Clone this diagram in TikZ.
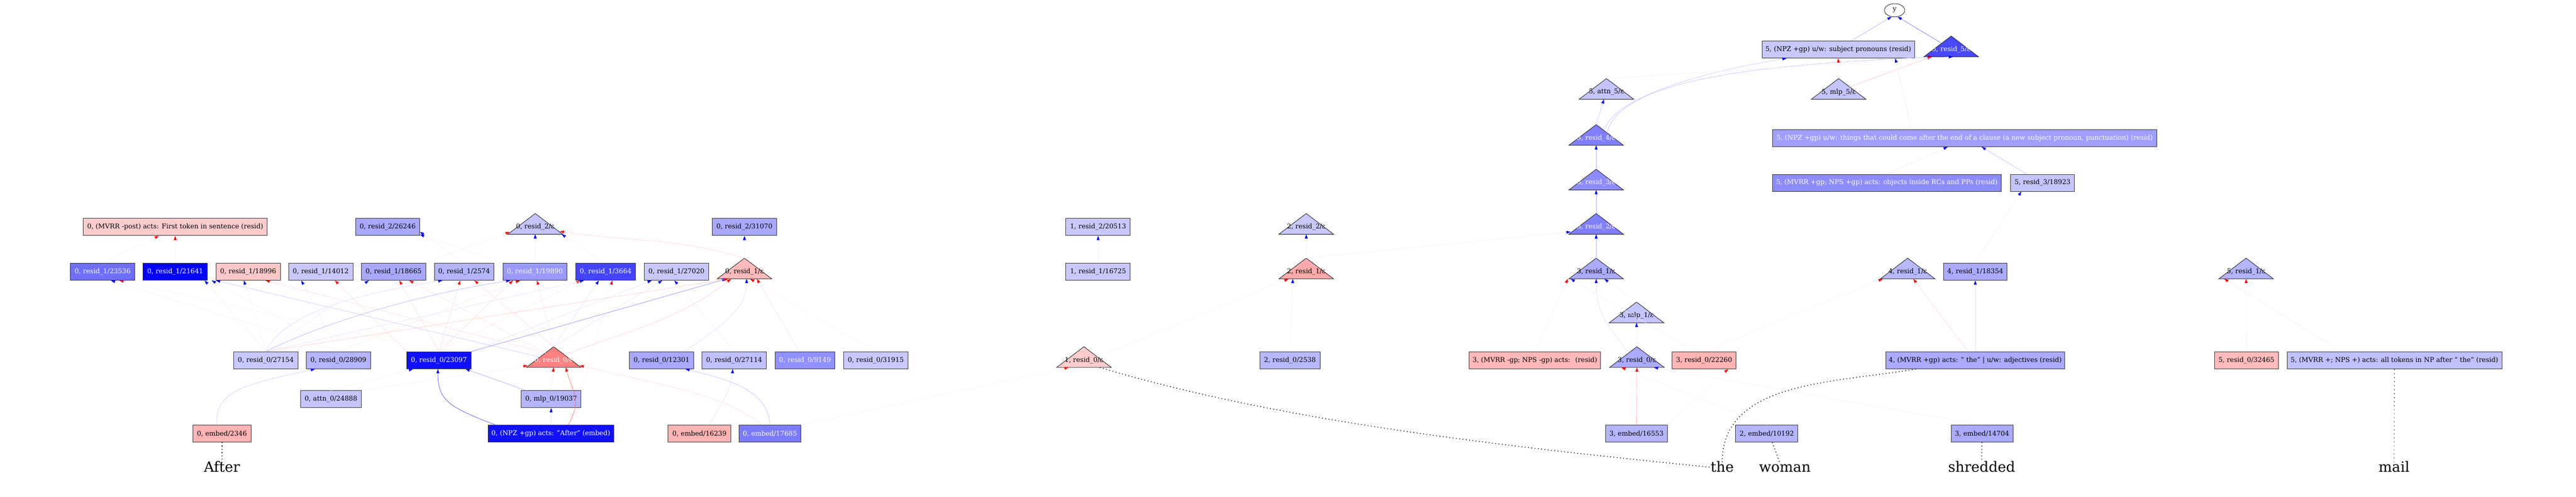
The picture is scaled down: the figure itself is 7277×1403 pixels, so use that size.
\documentclass[tikz,border=0pt]{standalone}
\usepackage{fontspec}
\setmainfont{DejaVu Serif}
\usetikzlibrary{arrows.meta,calc,shapes.geometric}
\newcommand\gpx[1]{#1*0.75pt}
\definecolor{bC8}{HTML}{C8C8FF}\definecolor{bC4}{HTML}{C4C4FF}\definecolor{bC0}{HTML}{C0C0FF}
\definecolor{bB8}{HTML}{B8B8FF}\definecolor{bB4}{HTML}{B4B4FF}\definecolor{bAA}{HTML}{AAAAFF}
\definecolor{bA8}{HTML}{A8A8FF}\definecolor{b9F}{HTML}{9F9FFF}\definecolor{b99}{HTML}{9999FF}
\definecolor{b90}{HTML}{9090FF}\definecolor{b8C}{HTML}{8C8CFF}\definecolor{b7F}{HTML}{7F7FFF}
\definecolor{b7B}{HTML}{7B7BFF}\definecolor{b70}{HTML}{6F6FFF}\definecolor{b48}{HTML}{4848FF}
\definecolor{b44}{HTML}{4444FF}\definecolor{b10}{HTML}{1010FF}\definecolor{b00}{HTML}{0000FF}
\definecolor{rCC}{HTML}{FFCCCC}\definecolor{rC8}{HTML}{FFC8C8}\definecolor{rBB}{HTML}{FFBBBB}
\definecolor{rB8}{HTML}{FFB8B8}\definecolor{rB4}{HTML}{FFB4B4}\definecolor{rAA}{HTML}{FFAAAA}
\definecolor{r80}{HTML}{FF8080}
\tikzset{
  lbl/.style={font=\fontsize{14}{16}\selectfont, inner sep=0pt},
  box/.style={draw=black!80, line width=1pt, minimum height=36pt, inner sep=0pt, font=\fontsize{14}{16}\selectfont},
  bw/.style={minimum width=#1*0.75pt},
  trin/.style={minimum width=115.5pt, minimum height=43.5pt, inner sep=0pt},
  tribord/.style={draw=black!85, line width=1pt},
  eB/.style={draw=blue!#1, line width=0.75pt, -{Triangle[length=9pt,width=6pt,color=blue]}},
  eR/.style={draw=red!#1, line width=0.75pt, -{Triangle[length=9pt,width=6pt,color=red]}},
  eK/.style={draw=black!#1, line width=0.75pt, -{Triangle[length=9pt,width=6pt,color=blue]}},
  word/.style={font=\fontsize{30}{34}\selectfont, inner sep=0pt, anchor=base, text height=21pt, text depth=0pt},
  wlink/.style={line width=1.6pt, dash pattern=on 1.6pt off 5.4pt, black},
  wdash/.style={line width=1pt, dash pattern=on 2.5pt off 6pt, black!80},
}
\newcommand\trinode[6]{%
  \node[trin] (#1) at (#2,#3-9) {};
  \draw[tribord,fill=#4] (#1.north) -- (#1.south east) -- (#1.south west) -- cycle;
  \node[lbl,text=#5] (#1l) at (#2,#3) {#6};
}
\begin{document}
\begin{tikzpicture}[x=0.75pt,y=-0.75pt]
\useasboundingbox[fill=white] (0,0) rectangle (7277,1403);

% ---------- top rows ----------
\node[draw=black, line width=0.8pt, ellipse, minimum width=43pt, minimum height=28pt, inner sep=0pt, lbl] (yy) at (5352,29) {y};
\node[box,bw=431,fill=bC8] (npzsubj) at (5193,140) {5, (NPZ +gp) u/w: subject pronouns (resid)};
\trinode{r5e}{5512}{140}{b48}{white}{5, resid\_5/ε}
\trinode{a5e}{4538}{260}{bC4}{black}{5, attn\_5/ε}
\trinode{m5e}{5194}{260}{bC4}{black}{5, mlp\_5/ε}
\trinode{r4e}{4509}{390}{b7F}{white}{3, resid\_4/ε}
\node[box,bw=1086,fill=b9F,text=white] (npzthings) at (5550,390) {5, (NPZ +gp) u/w: things that could come after the end of a clause (a new subject pronoun, punctuation) (resid)};
\trinode{r3e}{4509}{516}{b8C}{white}{3, resid\_3/ε}
\node[box,bw=647,fill=b8C,text=white] (mvrrobj) at (5330,516) {5, (MVRR +gp; NPS +gp) acts: objects inside RCs and PPs (resid)};
\node[box,bw=181,fill=bC4] (ra18923) at (5770,516) {5, resid\_3/18923};

% ---------- resid_2 row ----------
\node[box,bw=519,fill=rCC] (mvrrpost) at (495,641) {0, (MVRR -post) acts: First token in sentence (resid)};
\node[box,bw=181,fill=bA8] (rb26246) at (1095,641) {0, resid\_2/26246};
\trinode{r2e0}{1512}{641}{bC4}{black}{0, resid\_2/ε}
\node[box,bw=181,fill=bA8] (rb31070) at (2103,641) {0, resid\_2/31070};
\node[box,bw=182,fill=bC8] (rb20513) at (3102,641) {1, resid\_2/20513};
\trinode{r2e2}{3690}{641}{bC8}{black}{2, resid\_2/ε}
\trinode{r2e3}{4509}{641}{b7F}{white}{3, resid\_2/ε}

% ---------- resid_1 row ----------
\node[box,bw=182,fill=b70,text=white] (rc23536) at (290,767) {0, resid\_1/23536};
\node[box,bw=182,fill=b00,text=white] (rc21641) at (495,767) {0, resid\_1/21641};
\node[box,bw=182,fill=rC8] (rc18996) at (701,767) {0, resid\_1/18996};
\node[box,bw=182,fill=bC8] (rc14012) at (906,767) {0, resid\_1/14012};
\node[box,bw=182,fill=bA8] (rc18665) at (1112,767) {0, resid\_1/18665};
\node[box,bw=168,fill=bB4] (rc2574) at (1311,767) {0, resid\_1/2574};
\node[box,bw=181,fill=b99,text=white] (rc19890) at (1511,767) {0, resid\_1/19890};
\node[box,bw=169,fill=b44,text=white] (rc3664) at (1711,767) {0, resid\_1/3664};
\node[box,bw=181,fill=bC8] (rc27020) at (1911,767) {0, resid\_1/27020};
\trinode{r1e0}{2103}{767}{rBB}{black}{0, resid\_1/ε}
\node[box,bw=182,fill=bC8] (rc16725) at (3102,767) {1, resid\_1/16725};
\trinode{r1e2}{3690}{767}{rAA}{black}{2, resid\_1/ε}
\trinode{r1e3}{4509}{767}{bAA}{black}{3, resid\_1/ε}
\trinode{r1e4}{5389}{767}{bB8}{black}{4, resid\_1/ε}
\node[box,bw=180,fill=bAA] (rc18354) at (5580,767) {4, resid\_1/18354};
\trinode{r1e5}{6345}{767}{bB4}{black}{5, resid\_1/ε}

\trinode{m1e3}{4623}{891}{bC4}{black}{3, mlp\_1/ε}

% ---------- resid_0 row ----------
\node[box,bw=182,fill=bC8] (rd27154) at (751,1017) {0, resid\_0/27154};
\node[box,bw=182,fill=bB4] (rd28909) at (956,1017) {0, resid\_0/28909};
\node[box,bw=182,fill=b10,text=white] (rd23097) at (1240,1017) {0, resid\_0/23097};
\trinode{r0e0}{1564}{1017}{r80}{white}{0, resid\_0/ε}
\node[box,bw=182,fill=bA8] (rd12301) at (1869,1017) {0, resid\_0/12301};
\node[box,bw=182,fill=bC0] (rd27114) at (2074,1017) {0, resid\_0/27114};
\node[box,bw=170,fill=b90,text=white] (rd9149) at (2274,1017) {0, resid\_0/9149};
\node[box,bw=182,fill=bC8] (rd31915) at (2474,1017) {0, resid\_0/31915};
\trinode{r0e1}{3062}{1017}{rCC}{black}{1, resid\_0/ε}
\node[box,bw=170,fill=bB8] (rd2538) at (3644,1017) {2, resid\_0/2538};
\node[box,bw=371,fill=rB8] (mvrr3) at (4336,1017) {3, (MVRR -gp; NPS -gp) acts:~ (resid)};
\trinode{r0e3}{4624}{1017}{bAA}{black}{3, resid\_0/ε}
\node[box,bw=181,fill=rB4] (rd22260) at (4814,1017) {3, resid\_0/22260};
\node[box,bw=506,fill=bAA] (mvrr4) at (5580,1017) {4, (MVRR +gp) acts: " the" | u/w: adjectives (resid)};
\node[box,bw=180,fill=rBB] (rd32465) at (6346,1017) {5, resid\_0/32465};
\node[box,bw=607,fill=bC0] (mvrr5) at (6764,1017) {5, (MVRR +; NPS +) acts: all tokens in NP after " the" (resid)};

% ---------- attn_0 / mlp_0 ----------
\node[box,bw=172,fill=bC4] (at24888) at (935,1127) {0, attn\_0/24888};
\node[box,bw=169,fill=bB4] (ml19037) at (1557,1127) {0, mlp\_0/19037};

% ---------- embed row ----------
\node[box,bw=164,fill=rB4] (em2346) at (627,1224) {0, embed/2346};
\node[box,bw=355,fill=b10,text=white] (npzafter) at (1556,1224) {0, (NPZ +gp) acts: "After" (embed)};
\node[box,bw=177,fill=rB4] (em16239) at (1976,1224) {0, embed/16239};
\node[box,bw=176,fill=b7B,text=white] (em17685) at (2175,1224) {0, embed/17685};
\node[box,bw=176,fill=bB4] (em16553) at (4623,1224) {3, embed/16553};
\node[box,bw=176,fill=bB4] (em10192) at (4991,1224) {2, embed/10192};
\node[box,bw=175,fill=bAA] (em14704) at (5599,1224) {3, embed/14704};

% ---------- words ----------
\node[word] (wAfter) at (627,1333) {After};
\node[word] (wthe) at (4865,1333) {the};
\node[word] (wwoman) at (5042,1333) {woman};
\node[word] (wshredded) at (5598,1333) {shredded};
\node[word] (wmail) at (6763,1333) {mail};

% ================= edges =================
% top
\draw[eB=30] ([xshift=\gpx{36}]npzsubj.north) -- (yy.-115);
\draw[eB=55] ($(r5e.north)!0.35!(r5e.south west)$) -- (yy.-65);
\draw[eB=22] ($(r4e.north)!0.3!(r4e.south east)$) .. controls +(20,-90) and +(-250,40) .. ([xshift=\gpx{-146}]npzsubj.south);
\draw[eB=25] ($(r4e.north)!0.4!(r4e.south east)$) .. controls +(40,-170) and +(-380,20) .. ([xshift=\gpx{24}]r5e.south west);
\draw[eR=22] ($(m5e.north)!0.4!(m5e.south east)$) -- ([xshift=\gpx{22}]r5e.south west);
\draw[eB=6] (a5e.north) -- ([xshift=\gpx{5}]r5e.south);
\draw[eR=8] (m5e.north) -- (npzsubj.south);
\draw[eB=8] ([xshift=\gpx{-150}]npzthings.north) -- ([xshift=\gpx{161}]npzsubj.south);
\draw[eB=22] (r4e.north) -- ([xshift=\gpx{-7}]a5e.south);
\draw[eB=30] (r3e.north) -- (r4e.south);
\draw[eB=35] (r2e3.north) -- (r3e.south);
\draw[eB=30] (r1e3.north) -- (r2e3.south);
\draw[eB=5] (r1e2.north) -- ([xshift=4pt,yshift=5pt]r2e3.south west);
\draw[eB=8] (mvrrobj.north) -- ([xshift=\gpx{-48}]npzthings.south);
\draw[eB=25] ([xshift=\gpx{-45}]ra18923.north) -- ([xshift=\gpx{48}]npzthings.south);
\draw[eB=6] (rc18354.north) -- ([xshift=\gpx{-60}]ra18923.south);

% right lower
\draw[eR=15] ([xshift=\gpx{-20}]mvrr4.north) -- ([xshift=\gpx{16}]r1e4.south);
\draw[eK=12] (mvrr4.north) -- (rc18354.south);
\draw[eR=5] (rd22260.north) -- ([xshift=5pt]r1e4.south west);
\draw[eR=8] (rd32465.north) -- (r1e5.south);
\draw[eR=8] ([xshift=\gpx{-150}]mvrr5.north) -- ([xshift=\gpx{-62}]r1e5.south);

% position 3
\draw[eR=30] (em16553.north) -- (r0e3.south);
\draw[eR=5] (em10192.north) -- ([xshift=\gpx{-44}]r0e3.south);
\draw[eB=5] (em14704.north) -- ([xshift=\gpx{48}]r0e3.south);
\draw[eR=5] (em16553.north east) -- ([xshift=\gpx{68}]rd22260.south);
\draw[eB=12] ($(r0e3.north)!0.3!(r0e3.south west)$) .. controls +(-60,-80) and +(0,100) .. (r1e3.south);
\draw[eB=5] (r0e3.north) -- (m1e3.south);
\draw[eB=5] (m1e3.north) -- ([xshift=\gpx{23}]r1e3.south);
\draw[eR=5] (mvrr3.north) -- ([xshift=\gpx{-80}]r1e3.south);
\draw[eB=5] ([xshift=-20pt]rd22260.north) -- ([xshift=\gpx{-72}]r1e3.south);

% positions 1, 2
\draw[eB=5] (rc16725.north) -- (rb20513.south);
\draw[eB=5] (r1e2.north) -- (r2e2.south);
\draw[eR=5] ($(r0e1.north)!0.5!(r0e1.south east)$) -- ([xshift=\gpx{-50}]r1e2.south);
\draw[eB=5] (rd2538.north) -- ([xshift=\gpx{-38}]r1e2.south);
\draw[eR=4] (em17685.north east) -- ([xshift=\gpx{-43}]r0e1.south);

% resid_0 -> resid_1 (position 0)
\draw[eB=5] (rd28909.north) -- ([xshift=\gpx{23}]rc23536.south);
\draw[eR=5] (rd23097.north) -- ([xshift=\gpx{47}]rc23536.south);
\draw[eB=5] (rd27154.north) -- ([xshift=\gpx{83}]rc21641.south);
\draw[eB=5] (rd28909.north) -- ([xshift=\gpx{103}]rc21641.south);
\draw[eB=22] ($(r0e0.north)!0.5!(r0e0.south west)$) -- ([xshift=\gpx{115}]rc21641.south);
\draw[eB=5] (rd27154.north) -- ([xshift=\gpx{-12}]rc18996.south);
\draw[eR=12] ($(r0e0.north)!0.3!(r0e0.south west)$) -- ([xshift=\gpx{49}]rc18996.south);
\draw[eB=5] (rd28909.north) -- ([xshift=\gpx{-55}]rc14012.south);
\draw[eR=12] (rd23097.north west) -- ([xshift=\gpx{40}]rc14012.south);
\draw[eB=5] (rd27154.north) -- ([xshift=\gpx{-70}]rc18665.south);
\draw[eR=12] (rd23097.north) -- ([xshift=\gpx{16}]rc18665.south);
\draw[eR=10] ($(r0e0.north)!0.3!(r0e0.south west)$) -- ([xshift=\gpx{44}]rc18665.south);
\draw[eB=14] (rd27154.north) .. controls +(60,-130) and +(-150,25) .. ([xshift=\gpx{-61}]rc2574.south);
\draw[eR=12] (rd23097.north) -- ([xshift=\gpx{-11}]rc2574.south);
\draw[eR=12] (r0e0.north) -- ([xshift=\gpx{29}]rc2574.south);
\draw[eB=30] (rd27154.north) .. controls +(200,-100) and +(-200,30) .. ([xshift=\gpx{-69}]rc19890.south);
\draw[eR=12] (rd23097.north) -- ([xshift=\gpx{-62}]rc19890.south);
\draw[eR=8] (rd28909.north) -- ([xshift=\gpx{-42}]rc19890.south);
\draw[eR=10] (r0e0.north) -- ([xshift=\gpx{6}]rc19890.south);
\draw[eR=8] (rd23097.north) -- ([xshift=\gpx{-71}]rc3664.south);
\draw[eB=10] (rd27154.north) -- ([xshift=\gpx{-61}]rc3664.south);
\draw[eB=10] (r0e0.north) -- ([xshift=\gpx{-19}]rc3664.south);
\draw[eR=5] (ml19037.north east) -- ([xshift=\gpx{19}]rc3664.south);
\draw[eB=10] (rd23097.north east) -- ([xshift=\gpx{-70}]rc27020.south);
\draw[eB=10] (r0e0.north) -- ([xshift=\gpx{-40}]rc27020.south);
\draw[eB=5] (rd27114.north) -- ([xshift=\gpx{-6}]rc27020.south);
\draw[eB=45] (rd23097.north east) -- ([xshift=\gpx{-51}]r1e0.south);
\draw[eR=20] (rd27154.north) -- ([xshift=\gpx{-45}]r1e0.south);
\draw[eR=18] ($(r0e0.north)!0.4!(r0e0.south east)$) .. controls +(150,-60) and +(-150,120) .. ([xshift=\gpx{-38}]r1e0.south);
\draw[eB=12] ([xshift=\gpx{64}]rd12301.north) .. controls +(120,-80) and +(0,80) .. ([xshift=\gpx{6}]r1e0.south);
\draw[eR=5] (rd31915.north) -- ([xshift=\gpx{16}]r1e0.south);
\draw[eR=12] ([xshift=\gpx{-16}]rd9149.north) -- ([xshift=\gpx{35}]r1e0.south);

% resid_1 -> resid_2 (position 0)
\draw[eR=15] (r1e0.north) .. controls +(-200,-60) and +(200,30) .. ([xshift=-6pt,yshift=6pt]r2e0.south east);
\draw[eR=5] (rc18665.north east) -- ([xshift=4pt,yshift=5pt]r2e0.south west);
\draw[eB=5] (rc19890.north) -- (r2e0.south);
\draw[eB=5] (rc3664.north) -- ([xshift=-2pt]r2e0.south east);
\draw[eB=5] (rc2574.north) -- ([yshift=-10pt]rb26246.east);
\draw[eB=5] (rc19890.north west) -- ([yshift=-16pt]rb26246.east);
\draw[eR=5] (rc23536.north) -- ([xshift=\gpx{-46}]mvrrpost.south);
\draw[eR=5] (rc21641.north) -- (mvrrpost.south);
\draw[eB=5] (r1e0.north) -- (rb31070.south);

% bottom left
\draw[eB=20] ([xshift=\gpx{-14}]em2346.north) .. controls +(-10,-100) and +(-180,40) .. ([xshift=\gpx{-66}]rd28909.south);
\draw[eR=8] (at24888.north east) -- ([xshift=3pt,yshift=4pt]r0e0.south west);
\draw[eB=5] (at24888.north) -- ([xshift=\gpx{-73}]rd23097.south);
\draw[eR=10] (ml19037.north) -- (r0e0.south);
\draw[eB=35] ([xshift=\gpx{-70}]ml19037.north) -- ([xshift=\gpx{75}]rd23097.south);
\draw[eB=70] ([xshift=\gpx{-157}]npzafter.north) .. controls +(-130,-50) and +(0,90) .. ([xshift=\gpx{-3}]rd23097.south);
\draw[eK=15] (npzafter.north) -- (ml19037.south);
\draw[eR=60] ([xshift=\gpx{49}]npzafter.north) .. controls +(40,-70) and +(20,70) .. ([xshift=\gpx{34}]r0e0.south);
\draw[eB=12] ([xshift=\gpx{27}]em16239.north) .. controls +(40,-70) and +(-5,60) .. ([xshift=\gpx{-4}]rd27114.south);
\draw[eB=25] (em17685.north) .. controls +(-5,-100) and +(120,30) .. ([xshift=\gpx{67}]rd12301.south);
\draw[eR=12] ([xshift=\gpx{-22}]em17685.north) .. controls +(-120,-90) and +(250,60) .. ([xshift=-3pt,yshift=4pt]r0e0.south east);

% token links
\draw[wlink] (em2346.south) -- (wAfter.north);
\draw[wlink] ([xshift=\gpx{45}]r0e1.south) .. controls +(500,150) and +(-600,-60) .. (wthe.west);
\draw[wlink] ([xshift=\gpx{-168}]mvrr4.south) .. controls +(-230,40) and +(0,-230) .. (wthe.north);
\draw[wlink] ([xshift=\gpx{16}]em10192.south) -- ([xshift=\gpx{-15}]wwoman.north);
\draw[wlink] (em14704.south) -- (wshredded.north);
\draw[wdash] (mvrr5.south) -- (wmail.north);
\end{tikzpicture}
\end{document}
